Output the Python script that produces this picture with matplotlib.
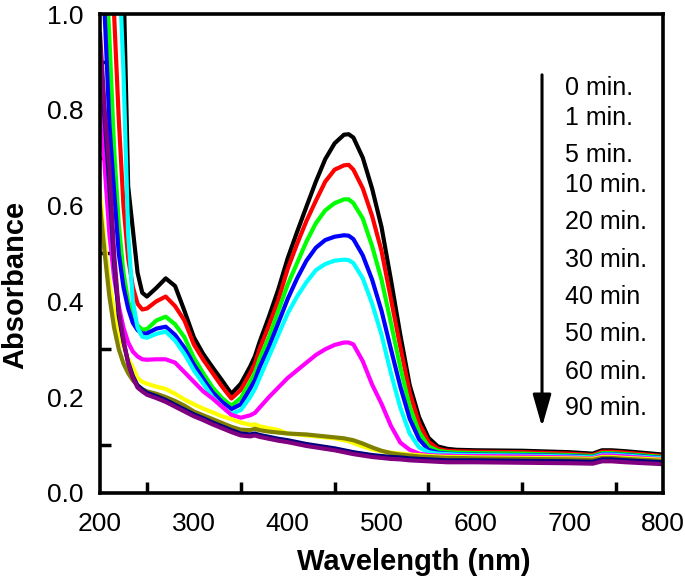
import matplotlib
matplotlib.use("Agg")
import matplotlib.pyplot as plt
from matplotlib.ticker import FixedLocator, NullFormatter

plt.rcParams['font.family'] = ['Liberation Sans', 'DejaVu Sans']

wavelength = [200, 205, 210, 215, 220, 225, 230, 235, 240, 245, 250, 260, 270, 280, 290,
              300, 310, 320, 330, 340, 350, 360, 365, 370, 380, 390, 400, 410, 420, 430,
              440, 450, 460, 465, 470, 480, 490, 500, 510, 520, 530, 540, 550, 560, 570,
              580, 600, 650, 700, 725, 735, 745, 760, 800]

abs_0 = [1.6, 1.5, 1.4, 1.3, 1.2, 1.08, 0.64, 0.55, 0.46, 0.418, 0.41, 0.428, 0.448, 0.432, 0.38,
         0.325, 0.29, 0.262, 0.235, 0.207, 0.228, 0.264, 0.285, 0.315, 0.368, 0.425, 0.49, 0.545, 0.598, 0.65,
         0.697, 0.73, 0.748, 0.749, 0.742, 0.70, 0.635, 0.555, 0.445, 0.33, 0.225, 0.158, 0.115, 0.097, 0.092,
         0.090, 0.089, 0.088, 0.085, 0.082, 0.089, 0.089, 0.087, 0.080]
abs_1 = [1.5, 1.35, 1.15, 1.0, 0.78, 0.6, 0.49, 0.43, 0.395, 0.383, 0.385, 0.40, 0.41, 0.39, 0.36,
         0.31, 0.278, 0.25, 0.222, 0.197, 0.215, 0.25, 0.27, 0.30, 0.35, 0.403, 0.468, 0.52, 0.568, 0.61,
         0.65, 0.675, 0.684, 0.685, 0.675, 0.636, 0.578, 0.505, 0.405, 0.305, 0.21, 0.145, 0.107, 0.092, 0.088,
         0.087, 0.086, 0.085, 0.082, 0.079, 0.086, 0.086, 0.084, 0.077]
abs_5 = [1.4, 1.15, 0.95, 0.72, 0.56, 0.46, 0.40, 0.37, 0.35, 0.341, 0.342, 0.36, 0.368, 0.352, 0.325,
         0.282, 0.25, 0.22, 0.198, 0.182, 0.198, 0.232, 0.25, 0.28, 0.325, 0.38, 0.435, 0.48, 0.525, 0.563,
         0.59, 0.605, 0.613, 0.613, 0.605, 0.573, 0.515, 0.445, 0.355, 0.262, 0.18, 0.127, 0.097, 0.088, 0.085,
         0.084, 0.083, 0.082, 0.079, 0.077, 0.083, 0.083, 0.081, 0.075]
abs_10 = [1.25, 1.0, 0.77, 0.63, 0.50, 0.43, 0.385, 0.355, 0.34, 0.333, 0.333, 0.343, 0.347, 0.33, 0.303,
          0.268, 0.238, 0.21, 0.19, 0.175, 0.185, 0.218, 0.235, 0.262, 0.305, 0.355, 0.405, 0.448, 0.485, 0.512,
          0.528, 0.535, 0.538, 0.537, 0.53, 0.496, 0.445, 0.38, 0.30, 0.222, 0.155, 0.112, 0.09, 0.084, 0.082,
          0.081, 0.080, 0.079, 0.077, 0.075, 0.081, 0.081, 0.079, 0.073]
abs_20 = [1.7, 1.6, 1.45, 1.3, 1.12, 0.88, 0.54, 0.40, 0.345, 0.326, 0.324, 0.332, 0.337, 0.318, 0.29,
          0.256, 0.228, 0.20, 0.18, 0.165, 0.173, 0.20, 0.217, 0.24, 0.285, 0.33, 0.375, 0.41, 0.44, 0.465,
          0.478, 0.485, 0.487, 0.486, 0.48, 0.448, 0.395, 0.33, 0.25, 0.178, 0.124, 0.095, 0.085, 0.082, 0.081,
          0.080, 0.079, 0.078, 0.076, 0.074, 0.080, 0.080, 0.078, 0.072]
abs_30 = [0.84, 0.68, 0.54, 0.45, 0.39, 0.345, 0.314, 0.295, 0.285, 0.279, 0.278, 0.279, 0.279, 0.272, 0.252,
          0.232, 0.212, 0.197, 0.18, 0.163, 0.157, 0.162, 0.167, 0.178, 0.20, 0.22, 0.24, 0.256, 0.272, 0.288,
          0.30, 0.309, 0.314, 0.314, 0.31, 0.275, 0.226, 0.186, 0.14, 0.105, 0.09, 0.082, 0.079, 0.078, 0.078,
          0.077, 0.077, 0.076, 0.074, 0.072, 0.078, 0.078, 0.076, 0.070]
abs_40 = [0.63, 0.52, 0.44, 0.38, 0.33, 0.305, 0.28, 0.262, 0.24, 0.232, 0.228, 0.222, 0.217, 0.207, 0.195,
          0.185, 0.176, 0.168, 0.16, 0.154, 0.147, 0.142, 0.143, 0.139, 0.135, 0.131, 0.124, 0.122, 0.12, 0.118,
          0.116, 0.114, 0.11, 0.108, 0.104, 0.097, 0.091, 0.087, 0.084, 0.082, 0.080, 0.079, 0.077, 0.076, 0.075,
          0.075, 0.074, 0.073, 0.072, 0.071, 0.075, 0.075, 0.073, 0.069]
abs_50 = [0.60, 0.50, 0.41, 0.345, 0.30, 0.27, 0.25, 0.235, 0.225, 0.217, 0.212, 0.207, 0.20, 0.192, 0.182,
          0.17, 0.162, 0.154, 0.146, 0.138, 0.132, 0.131, 0.134, 0.131, 0.128, 0.126, 0.124, 0.123, 0.122, 0.12,
          0.118, 0.116, 0.114, 0.112, 0.110, 0.103, 0.095, 0.088, 0.083, 0.080, 0.078, 0.076, 0.075, 0.074, 0.073,
          0.073, 0.072, 0.071, 0.070, 0.069, 0.073, 0.073, 0.071, 0.067]
abs_60 = [0.93, 0.78, 0.64, 0.48, 0.37, 0.315, 0.273, 0.244, 0.224, 0.216, 0.209, 0.202, 0.194, 0.184, 0.174,
          0.164, 0.156, 0.147, 0.139, 0.131, 0.124, 0.122, 0.124, 0.121, 0.117, 0.113, 0.110, 0.106, 0.102, 0.099,
          0.096, 0.093, 0.089, 0.087, 0.085, 0.082, 0.079, 0.077, 0.075, 0.074, 0.072, 0.071, 0.070, 0.069, 0.068,
          0.068, 0.068, 0.067, 0.066, 0.065, 0.070, 0.070, 0.068, 0.064]
abs_90 = [0.96, 0.80, 0.68, 0.50, 0.38, 0.32, 0.27, 0.24, 0.22, 0.212, 0.205, 0.198, 0.19, 0.18, 0.17,
          0.16, 0.152, 0.143, 0.135, 0.127, 0.12, 0.118, 0.12, 0.117, 0.113, 0.109, 0.106, 0.102, 0.098, 0.095,
          0.092, 0.089, 0.085, 0.083, 0.081, 0.078, 0.075, 0.073, 0.071, 0.070, 0.068, 0.067, 0.066, 0.065, 0.064,
          0.064, 0.064, 0.063, 0.062, 0.061, 0.066, 0.066, 0.064, 0.060]

series = [abs_0, abs_1, abs_5, abs_10, abs_20, abs_30, abs_40, abs_50, abs_60, abs_90]
labels = ["0 min.", "1 min.", "5 min.", "10 min.", "20 min.", "30 min.", "40 min",
          "50 min.", "60 min.", "90 min."]
colors = ["#000000", "#FF0000", "#00FF00", "#0000FF", "#00FFFF", "#FF00FF",
          "#FFFF00", "#808000", "#000080", "#800080"]

x_labels = [200, 300, 400, 500, 600, 700, 800]
x_minor = [250, 350, 450, 550, 650, 750]
y_labels = [0.0, 0.2, 0.4, 0.6, 0.8, 1.0]
y_minor = [0.1, 0.3, 0.5, 0.7, 0.9]

fig = plt.figure(figsize=(6.85, 5.84), dpi=100)
ax = fig.add_axes([0.146, 0.156, 0.822, 0.820])

for ys, c in zip(series, colors):
    ax.plot(wavelength, ys, color=c, lw=3.0, solid_joinstyle='round', solid_capstyle='round')

ax.set_xlim(200, 800)
ax.set_ylim(0, 1.0)

ax.xaxis.set_major_locator(FixedLocator(x_labels))
ax.xaxis.set_minor_locator(FixedLocator(x_minor))
ax.yaxis.set_major_locator(FixedLocator(y_labels))
ax.yaxis.set_minor_locator(FixedLocator(y_minor))
ax.set_xticklabels([str(v) for v in x_labels])
ax.set_yticklabels(["%.1f" % v for v in y_labels])
ax.xaxis.set_minor_formatter(NullFormatter())
ax.yaxis.set_minor_formatter(NullFormatter())

ax.tick_params(which='major', length=0, labelsize=19, colors='black')
ax.tick_params(axis='x', which='major', pad=14)
ax.tick_params(axis='y', which='major', pad=12)
ax.tick_params(which='minor', direction='in', length=8, width=2.5, color='black')

for sp in ax.spines.values():
    sp.set_linewidth(2.6)
    sp.set_color('black')

ax.set_xlabel("Wavelength (nm)", fontsize=21, fontweight='bold')
ax.set_ylabel("Absorbance", fontsize=21, fontweight='bold')
ax.xaxis.set_label_coords(0.558, -0.144)
ax.yaxis.set_label_coords(-0.151, 0.434)
ax.xaxis.label.set_va('center')
ax.yaxis.label.set_va('center')

# legend as text list with downward arrow
text_y = [0.846, 0.783, 0.706, 0.643, 0.566, 0.486, 0.409, 0.332, 0.253, 0.177]
for lab, ty in zip(labels, text_y):
    ax.text(0.826, ty, lab, transform=ax.transAxes, fontsize=18, va='center', ha='left')

ax.annotate("", xy=(0.785, 0.138), xytext=(0.785, 0.873),
            xycoords='axes fraction', textcoords='axes fraction',
            arrowprops=dict(arrowstyle='-|>,head_length=1.4,head_width=0.4',
                            lw=2.2, color='black', mutation_scale=14,
                            shrinkA=0, shrinkB=0))

fig.savefig("out.png", dpi=100)
